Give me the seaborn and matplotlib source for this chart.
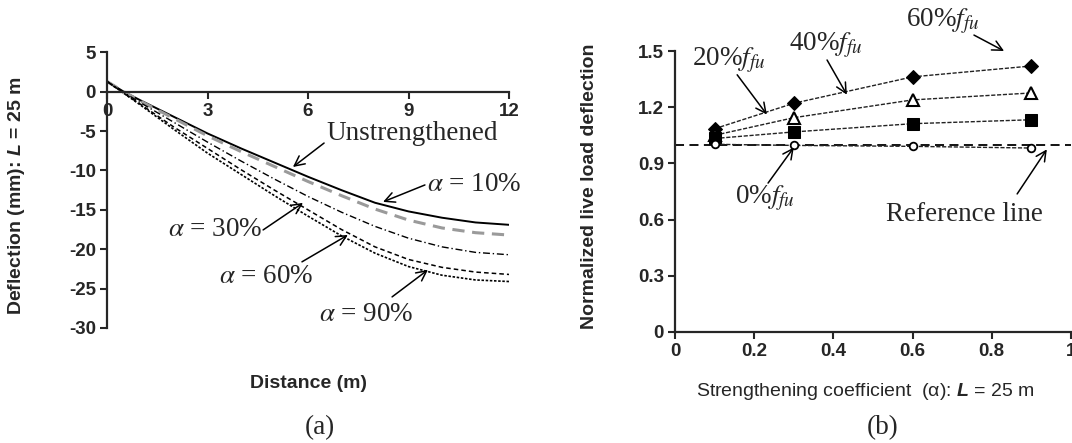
import numpy as np
import pandas as pd
import matplotlib
matplotlib.use("Agg")
import matplotlib.pyplot as plt
import seaborn as sns

# ---------------- data: panel (a) ----------------
distance = [0, 0.5, 1, 2, 3, 4, 5, 6, 7, 8, 9, 10, 11, 12]
defl_unstrengthened = [1.3, 0.0, -1.1, -3.2, -5.3, -7.2, -9.0, -10.8, -12.5, -14.1, -15.2, -16.0, -16.6, -16.9]
defl_a10 = [1.3, 0.0, -1.2, -3.4, -5.6, -7.6, -9.5, -11.4, -13.2, -14.9, -16.3, -17.3, -17.9, -18.2]
defl_a30 = [1.3, -0.1, -1.4, -3.9, -6.4, -8.8, -11.1, -13.3, -15.3, -17.1, -18.6, -19.7, -20.4, -20.7]
defl_a60 = [1.3, -0.2, -1.6, -4.5, -7.2, -9.9, -12.5, -15.0, -17.5, -19.7, -21.3, -22.3, -22.9, -23.2]
defl_a90 = [1.3, -0.2, -1.7, -4.8, -7.8, -10.5, -13.2, -15.8, -18.3, -20.5, -22.2, -23.3, -23.9, -24.1]
a_xticks = [0, 3, 6, 9, 12]
a_yticks = [5, 0, -5, -10, -15, -20, -25, -30]

# ---------------- data: panel (b) ----------------
alpha_coef = [0.1, 0.3, 0.6, 0.9]
norm_f60 = [1.085, 1.221, 1.362, 1.42]
norm_f40 = [1.05, 1.144, 1.239, 1.276]
norm_f20 = [1.033, 1.068, 1.112, 1.133]
norm_f0 = [1.002, 0.996, 0.991, 0.982]
reference_value = 1.0
b_xticks = [0, 0.2, 0.4, 0.6, 0.8, 1.0]
b_xticklabels = ["0", "0.2", "0.4", "0.6", "0.8", "1"]
b_yticks = [0, 0.3, 0.6, 0.9, 1.2, 1.5]
b_yticklabels = ["0", "0.3", "0.6", "0.9", "1.2", "1.5"]

sns.set_style("ticks")
plt.rcParams["font.family"] = ["Liberation Sans", "DejaVu Sans"]
plt.rcParams["axes.unicode_minus"] = False
plt.rcParams["mathtext.fontset"] = "custom"
plt.rcParams["mathtext.rm"] = "Liberation Sans:bold"
plt.rcParams["mathtext.it"] = "Liberation Sans:italic:bold"
plt.rcParams["mathtext.bf"] = "Liberation Sans:bold"

fig = plt.figure(figsize=(10.72, 4.43), dpi=100)
W, H = 1072, 443

def fpos(x0, x1, ytop, ybot):
    return [x0 / W, 1 - ybot / H, (x1 - x0) / W, (ybot - ytop) / H]

axA = fig.add_axes(fpos(107, 509, 52.3, 328))
axB = fig.add_axes(fpos(675, 1071, 51, 332))

serif = "Liberation Serif"
ann_fs = 19.5
tick_fs = 13.5
lab_fs = 14

# ---------- panel (a) ----------
series_a = [
    (defl_unstrengthened, dict(color="black", lw=1.4), None),
    (defl_a10, dict(color="#9a9a9a", lw=2.2), (4, 2.5)),
    (defl_a30, dict(color="black", lw=1.0), (5, 2, 1, 2)),
    (defl_a60, dict(color="black", lw=1.1), (3, 2)),
    (defl_a90, dict(color="black", lw=1.2), (1.5, 1)),
]
for vals, kw, dashes in series_a:
    sns.lineplot(x=distance, y=vals, ax=axA, **kw)
    if dashes is not None:
        axA.lines[-1].set_dashes(dashes)

axA.set_xlim(0, 12)
axA.set_ylim(-30, 5)
axA.set_xticks(a_xticks)
axA.set_yticks(a_yticks)
axA.spines["top"].set_visible(False)
axA.spines["right"].set_visible(False)
axA.spines["bottom"].set_position(("data", 0))
for s in ["left", "bottom"]:
    axA.spines[s].set_linewidth(1.6)
axA.tick_params(axis="both", direction="out", length=5, width=1.5, labelsize=tick_fs, pad=3)
for t in axA.get_xticklabels() + axA.get_yticklabels():
    t.set_fontweight("bold")
axA.set_xlabel("Distance (m)", fontsize=lab_fs, fontweight="bold")
axA.xaxis.set_label_coords(0.5, -0.17)
axA.set_ylabel(r"Deflection (mm): $L$ = 25 m", fontsize=lab_fs, fontweight="bold")
axA.yaxis.set_label_coords(-0.2, 0.48)

def arrow(ax, start, tip):
    ax.annotate("", xy=tip, xytext=start,
                arrowprops=dict(arrowstyle="->", color="black", lw=1.1,
                                mutation_scale=18, shrinkA=0, shrinkB=0))

def label(ax, xy, s):
    ax.text(xy[0], xy[1], s, fontsize=ann_fs, family=serif, math_fontfamily="stix",
            ha="center", va="center", clip_on=False)

label(axA, (9.10, -5.25), "Unstrengthened")
arrow(axA, (6.48, -6.52), (5.55, -9.56))
label(axA, (10.96, -11.74), r"$\alpha$ = 10%")
arrow(axA, (9.49, -11.84), (8.24, -13.99))
label(axA, (3.22, -17.55), r"$\alpha$ = 30%")
arrow(axA, (4.66, -17.55), (5.85, -14.12))
label(axA, (4.75, -23.5), r"$\alpha$ = 60%")
arrow(axA, (5.82, -21.6), (7.19, -18.19))
label(axA, (7.73, -28.33), r"$\alpha$ = 90%")
arrow(axA, (8.51, -26.05), (9.58, -22.62))

# ---------- panel (b) ----------
axB.axhline(reference_value, color="black", lw=1.3, dashes=(5, 3), zorder=1)
series_b = [
    (norm_f60, dict(marker="D", markersize=7, markerfacecolor="black", markeredgecolor="black")),
    (norm_f40, dict(marker="^", markersize=9, markerfacecolor="white", markeredgecolor="black", markeredgewidth=1.5)),
    (norm_f20, dict(marker="s", markersize=9, markerfacecolor="black", markeredgecolor="black")),
    (norm_f0, dict(marker="o", markersize=5.5, markerfacecolor="white", markeredgecolor="black", markeredgewidth=1.3)),
]
for vals, kw in series_b:
    sns.lineplot(x=alpha_coef, y=vals, ax=axB, color="#222222", lw=1.0, **kw)
    axB.lines[-1].set_dashes((3, 1.2))

axB.set_xlim(0, 1.0)
axB.set_ylim(0, 1.5)
axB.set_xticks(b_xticks)
axB.set_xticklabels(b_xticklabels)
axB.set_yticks(b_yticks)
axB.set_yticklabels(b_yticklabels)
axB.spines["top"].set_visible(False)
axB.spines["right"].set_visible(False)
for s in ["left", "bottom"]:
    axB.spines[s].set_linewidth(1.6)
axB.tick_params(axis="both", direction="out", length=5, width=1.5, labelsize=tick_fs, pad=3)
for t in axB.get_xticklabels() + axB.get_yticklabels():
    t.set_fontweight("bold")
axB.set_xlabel(r"Strengthening coefficient  ($\mathregular{\alpha}$): $L$ = 25 m", fontsize=lab_fs)
axB.xaxis.set_label_coords(0.48, -0.174)
axB.set_ylabel("Normalized live load deflection", fontsize=lab_fs, fontweight="bold")
axB.yaxis.set_label_coords(-0.194, 0.52)

label(axB, (0.136, 1.452), r"20%$f_{fu}$")
arrow(axB, (0.157, 1.373), (0.232, 1.161))
label(axB, (0.381, 1.532), r"40%$f_{fu}$")
arrow(axB, (0.384, 1.452), (0.434, 1.267))
label(axB, (0.677, 1.659), r"60%$f_{fu}$")
arrow(axB, (0.755, 1.585), (0.831, 1.50))
label(axB, (0.227, 0.715), r"0%$f_{fu}$")
arrow(axB, (0.235, 0.795), (0.30, 0.985))
label(axB, (0.732, 0.625), "Reference line")
arrow(axB, (0.864, 0.737), (0.939, 0.975))

fig.text(320 / W, 1 - 428 / H, "(a)", fontsize=ann_fs, family=serif, ha="center", va="center")
fig.text(883 / W, 1 - 428 / H, "(b)", fontsize=ann_fs, family=serif, ha="center", va="center")

fig.savefig("out.png", dpi=100)
